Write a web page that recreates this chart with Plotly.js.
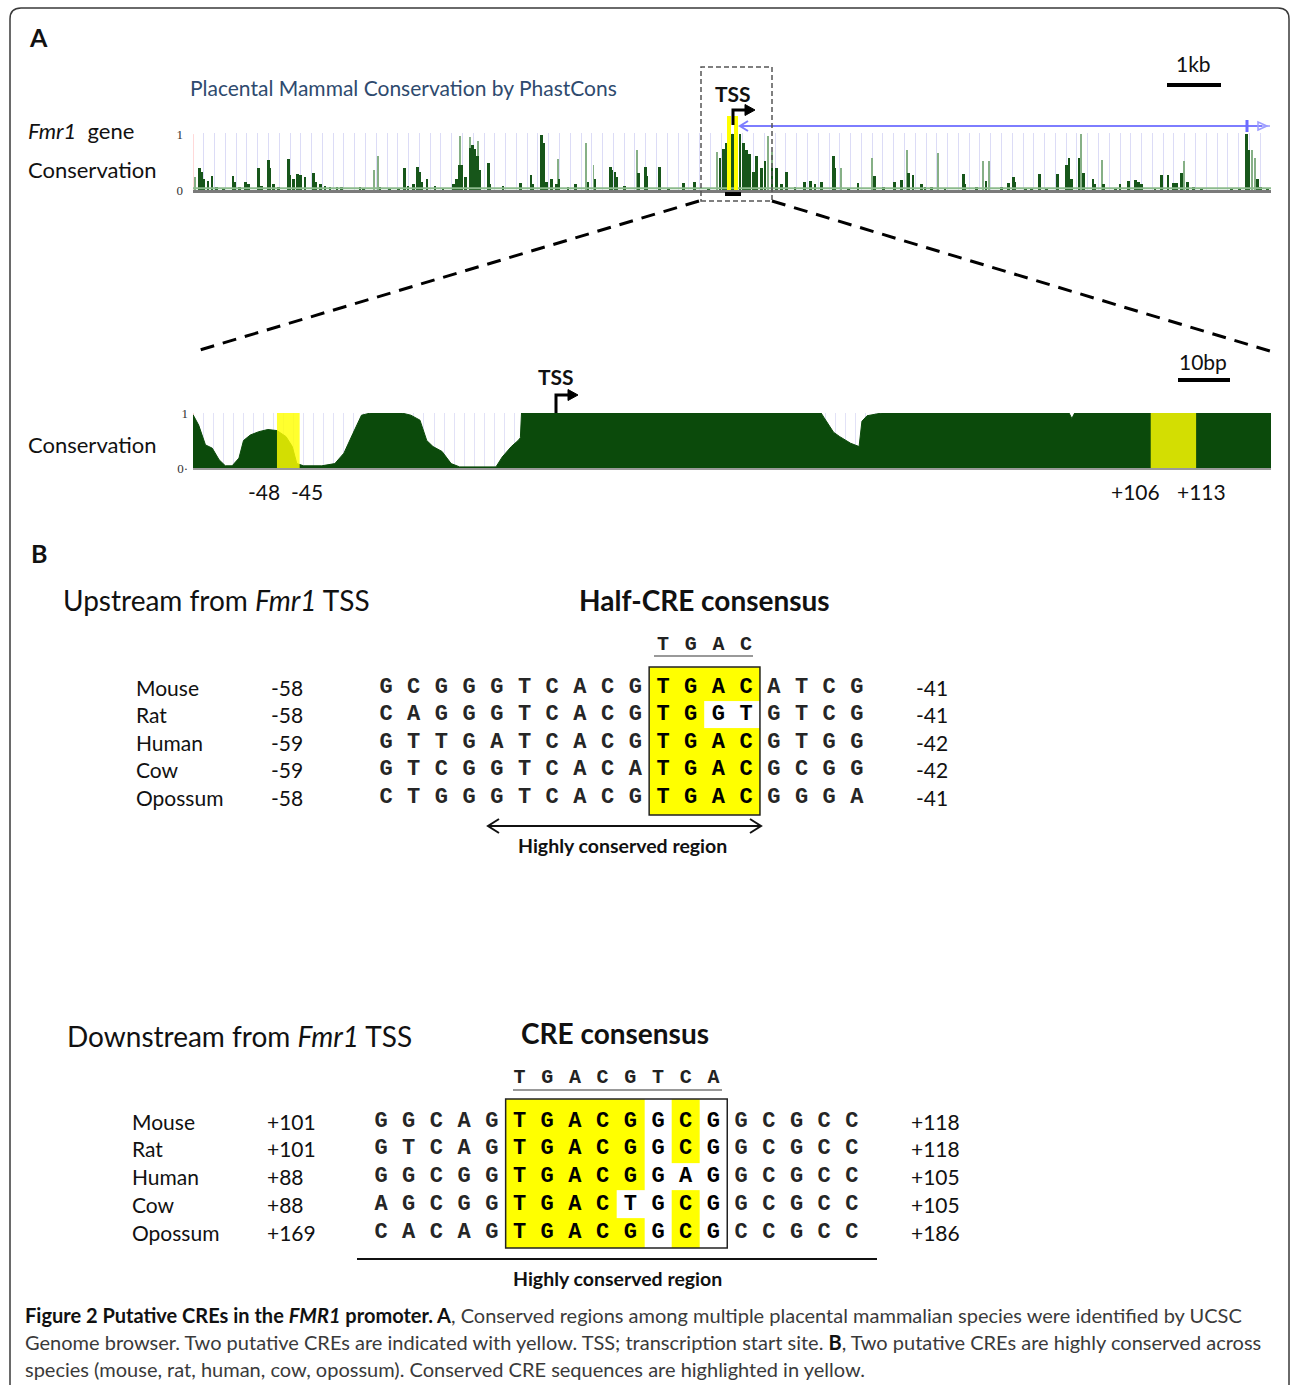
<!DOCTYPE html>
<html><head><meta charset="utf-8">
<script src="https://cdn.plot.ly/plotly-3.0.1.min.js"></script>
<style>body{margin:0;background:#fff}#chart{width:1290px;height:1385px}</style>
</head><body><div id="chart"></div>
<script>
// ---------------- DATA ----------------
// Panel A, upper track: PhastCons peaks across ~20 kb (position kb, score 0..1)
const darkPos = [0.12,0.16,0.20,0.28,0.35,0.44,0.56,0.74,0.78,0.86,0.98,1.03,1.21,1.27,1.40,1.43,1.49,1.58,1.77,1.80,1.86,1.94,1.99,2.08,2.23,2.28,2.36,2.45,2.54,2.67,2.76,3.10,3.16,3.47,3.65,3.81,3.93,3.99,4.09,4.16,4.20,4.24,4.34,4.49,4.64,4.83,4.89,4.95,4.99,5.06,5.14,5.19,5.23,5.28,5.32,5.48,5.51,5.75,6.07,6.27,6.31,6.47,6.50,6.56,6.65,6.75,
  6.79,6.96,7.09,7.33,7.46,7.74,7.77,7.83,7.86,8.01,8.26,8.39,8.42,8.65,8.82,9.10,9.31,9.56,9.78,9.84,9.90,10.01,10.15,10.21,10.27,10.33,10.40,10.46,10.55,10.61,10.74,10.83,10.92,11.01,11.17,11.35,11.45,11.54,11.66,11.88,11.91,12.16,12.34,12.64,12.81,13.02,13.15,13.27,13.36,13.52,
  13.58,13.70,13.95,14.29,14.32,14.54,14.71,15.00,15.13,15.22,15.25,15.44,15.56,15.70,15.84,16.04,16.21,16.25,16.30,16.44,16.52,16.70,16.73,16.89,17.11,17.20,17.35,17.48,17.54,17.60,17.85,17.97,18.09,18.19,18.25,18.34,18.45,18.56,18.71,19.27,19.42,19.55,19.58,19.75,19.81,19.93];
const darkVal = [0.40,0.32,0.19,0.16,0.25,0.05,0.03,0.25,0.15,0.05,0.14,0.10,0.40,0.08,0.53,0.39,0.10,0.06,0.55,0.26,0.20,0.29,0.27,0.23,0.30,0.15,0.10,0.07,0.05,0.06,0.05,0.06,0.04,0.05,0.04,0.04,0.39,0.08,0.10,0.42,0.32,0.15,0.19,0.07,0.03,0.10,0.20,0.45,0.45,0.23,0.75,0.80,0.74,0.60,0.35,0.48,0.10,0.08,0.13,0.27,0.10,0.98,0.84,0.15,0.19,0.10,
  0.20,0.05,0.10,0.15,0.20,0.42,0.35,0.32,0.23,0.08,0.30,0.42,0.25,0.42,0.04,0.12,0.15,0.04,0.58,0.74,0.84,1.00,1.00,0.84,0.71,0.65,0.32,0.61,0.39,0.52,0.40,0.39,0.10,0.32,0.05,0.15,0.16,0.10,0.15,0.61,0.40,0.04,0.13,0.25,0.06,0.14,0.18,0.30,0.26,0.10,
  0.05,0.05,0.03,0.29,0.10,0.05,0.16,0.05,0.12,0.23,0.15,0.04,0.04,0.29,0.04,0.29,0.45,0.58,0.20,0.58,0.30,0.19,0.10,0.10,0.04,0.10,0.16,0.18,0.15,0.10,0.04,0.26,0.26,0.13,0.12,0.30,0.15,0.05,0.04,0.03,0.04,1.00,0.71,0.20,0.05,0.03];
const lightPos = [0.04,3.36,3.43,4.95,5.14,5.28,6.77,7.29,7.43,8.23,9.72,10.67,10.74,12.02,12.59,13.24,13.83,14.66,14.77,16.47,16.86,18.39,19.64,19.70];
const lightVal = [0.23,0.35,0.61,0.97,0.94,0.87,0.55,0.85,0.45,0.71,0.68,0.97,0.68,0.39,0.58,0.72,0.66,0.52,0.52,1.00,0.53,0.52,0.71,0.58];

// Panel A, lower track: base-level conservation around the TSS (position bp, score)
const promPos = [-63.3,-62.3,-61.1,-59.9,-58.7,-57.6,-56.4,-55.2,-54.4,-53.2,-51.7,-50.1,-48.5,-46.9,-45.8,-45.0,-43.8,-40.6,-38.3,-36.7,-35.1,-33.6,-32.0,-26.5,-24.9,-23.3,-22.1,-21.0,-19.4,-17.8,-16.3,-9.9,-8.8,-7.2,-6.0,-5.6,-5.4,
  47.4,47.9,49.6,50.7,51.6,52.6,54.1,54.6,55.5,58.1,91.1,91.6,92.1,126.7];
const promVal = [0.97,0.78,0.42,0.36,0.15,0.04,0.04,0.18,0.50,0.60,0.66,0.70,0.68,0.57,0.39,0.08,0.04,0.04,0.08,0.27,0.63,0.96,1.00,1.00,0.96,0.87,0.50,0.39,0.30,0.08,0.02,0.02,0.20,0.39,0.50,0.55,1.00,
  1.00,0.92,0.65,0.57,0.51,0.45,0.39,0.85,0.95,1.00,1.00,0.90,1.00,1.00];
const creStart = [-48, 106];
const creEnd   = [-45, 113];
const creLabels = ["-48","-45","+106","+113"];

// Panel B alignments
const species = ["Mouse","Rat","Human","Cow","Opossum"];
const upSeqs  = ["GCGGGTCACGTGACATCG","CAGGGTCACGTGGTGTCG","GTTGATCACGTGACGTGG","GTCGGTCACATGACGCGG","CTGGGTCACGTGACGGGA"];
const upStart = ["-58","-58","-59","-59","-58"];
const upEnd   = ["-41","-41","-42","-42","-41"];
const upBoxCols = [10,11,12,13];
const upHighlight = [[1,1,1,1],[1,1,0,0],[1,1,1,1],[1,1,1,1],[1,1,1,1]];
const upConsensus = "TGAC";

const dnSeqs  = ["GGCAGTGACGGCGGCGCC","GTCAGTGACGGCGGCGCC","GGCGGTGACGGAGGCGCC","AGCGGTGACTGCGGCGCC","CACAGTGACGGCGCCGCC"];
const dnStart = ["+101","+101","+88","+88","+169"];
const dnEnd   = ["+118","+118","+105","+105","+186"];
const dnBoxCols = [5,6,7,8,9,10,11,12];
const dnHighlight = [[1,1,1,1,1,0,1,0],[1,1,1,1,1,0,1,0],[1,1,1,1,1,0,0,0],[1,1,1,1,0,0,1,0],[1,1,1,1,1,0,1,0]];
const dnConsensus = "TGACGTCA";

// ---------------- LAYOUT HELPERS ----------------
const W=1290,H=1385;
const X=p=>p/W, Y=p=>1-p/H;
const SANS='Lato, "Open Sans", sans-serif';
const MONO='"Liberation Mono", "DejaVu Sans Mono", monospace';
const GREEN='#0b4a0b';

function seqTrace(seqs, boxCols, xa, ya){
  const xs=[],ys=[],ts=[],cs=[];
  seqs.forEach((s,r)=>{ for(let c=0;c<s.length;c++){ xs.push(c); ys.push(r); ts.push(s[c]); cs.push(boxCols.includes(c)?'#000':'#262626'); } });
  return {type:'scatter',mode:'text',x:xs,y:ys,text:ts,xaxis:xa,yaxis:ya,cliponaxis:false,hoverinfo:'skip',
    textfont:{family:MONO,size:22,color:cs,weight:'bold'},showlegend:false};
}
function consTrace(cons, firstCol, rowY, xa, ya){
  const letters=cons.split('');
  return {type:'scatter',mode:'text',x:letters.map((_,i)=>firstCol+i),y:letters.map(()=>rowY),
    text:letters,xaxis:xa,yaxis:ya,cliponaxis:false,hoverinfo:'skip',
    textfont:{family:MONO,size:20,color:'#222',weight:'bold'},showlegend:false};
}

const traces = [
  {type:'bar',x:lightPos,y:lightVal,width:0.035,marker:{color:'#86b086',line:{width:0}},xaxis:'x',yaxis:'y',hoverinfo:'skip',showlegend:false},
  {type:'bar',x:darkPos,y:darkVal,width:0.05,marker:{color:'#17561a',line:{width:0}},xaxis:'x',yaxis:'y',hoverinfo:'skip',showlegend:false},
  {type:'scatter',mode:'lines',x:promPos,y:promVal,fill:'tozeroy',fillcolor:GREEN,line:{color:GREEN,width:1},xaxis:'x2',yaxis:'y2',hoverinfo:'skip',showlegend:false},
  {type:'heatmap',x:upBoxCols,y:[-0.727,0.5,1.5,2.5,3.5,4.655],z:upHighlight,zmin:0,zmax:1,colorscale:[[0,'#ffffff'],[1,'#ffff00']],showscale:false,xaxis:'x3',yaxis:'y3',hoverinfo:'skip'},
  {type:'heatmap',x:dnBoxCols,y:[-0.79,0.5,1.5,2.5,3.5,4.58],z:dnHighlight,zmin:0,zmax:1,colorscale:[[0,'#ffffff'],[1,'#ffff00']],showscale:false,xaxis:'x4',yaxis:'y4',hoverinfo:'skip'},
  seqTrace(upSeqs, upBoxCols, 'x3','y3'),
  seqTrace(dnSeqs, dnBoxCols, 'x4','y4'),
  consTrace(upConsensus, upBoxCols[0], -1.53, 'x3','y3'),
  consTrace(dnConsensus, dnBoxCols[0], -1.55, 'x4','y4')
];

// ---------------- SHAPES ----------------
const shapes = [];
const pl = (x0,y0,x1,y1,color,width,dash)=>shapes.push({type:'line',xref:'paper',yref:'paper',x0:X(x0),y0:Y(y0),x1:X(x1),y1:Y(y1),line:{color,width,dash:dash||'solid'},layer:'above'});
const pathP = (pts,close,color,width,fill)=>{ let d='M'+pts.map(p=>X(p[0])+','+Y(p[1])).join(' L')+(close?' Z':''); shapes.push({type:'path',xref:'paper',yref:'paper',path:d,line:{color,width},fillcolor:fill||'rgba(0,0,0,0)',layer:'above'}); };

// outer rounded frame
shapes.push({type:'path',xref:'paper',yref:'paper',layer:'above',line:{color:'#3a3a3a',width:1.5},
  path:`M${X(10)},${Y(1400)} L${X(10)},${Y(19)} Q${X(10)},${Y(8)} ${X(21)},${Y(8)} L${X(1278)},${Y(8)} Q${X(1289)},${Y(8)} ${X(1289)},${Y(19)} L${X(1289)},${Y(1400)}`});

// upper track decorations
shapes.push({type:'line',xref:'x',yref:'y',x0:0,x1:0,y0:0,y1:1,line:{color:'#ffb4b4',width:1},layer:'below'});
shapes.push({type:'line',xref:'x',yref:'y',x0:0,x1:20,y0:0.03,y1:0.03,line:{color:'#8dbb8d',width:2},layer:'above'});
shapes.push({type:'rect',xref:'paper',yref:'paper',x0:X(727),x1:X(731),y0:Y(190),y1:Y(116),fillcolor:'#ffff00',line:{width:0},layer:'above'});
shapes.push({type:'rect',xref:'paper',yref:'paper',x0:X(734),x1:X(738),y0:Y(190),y1:Y(116),fillcolor:'#ffff00',line:{width:0},layer:'above'});
pl(725,194,741,194,'#000',4);
// gene model (blue)
pl(741,126,1262,126,'#7d7dff',2);
pathP([[748,121],[740,126],[748,131]],false,'#7d7dff',2);
pl(1247,120,1247,132,'#6b6bff',3);
pathP([[1258,122],[1267,126],[1258,130]],true,'#9d9dff',1.5);
pl(1262,126,1270,126,'#9d9dff',1.5);
// TSS arrow (upper)
pathP([[733,125],[733,110],[746,110]],false,'#000',3);
pathP([[745,104.5],[755,110],[745,115.5]],true,'#000',1,'#000');
// dashed zoom box and projection
shapes.push({type:'rect',xref:'paper',yref:'paper',x0:X(701),x1:X(772),y0:Y(201),y1:Y(67),line:{color:'#555',width:1.5,dash:'5px,3px'},layer:'above'});
pl(699,201,193,352,'#000',3,'14px,9px');
pl(772,201,1273,352,'#000',3,'14px,9px');
// scale bars
pl(1167,85,1221,85,'#000',4);
pl(1178,380,1230,380,'#000',4);
// lower track decorations
shapes.push({type:'line',xref:'x2',yref:'y2',x0:-63.3,x1:-63.3,y0:0,y1:1,line:{color:'#ffb4b4',width:1},layer:'below'});
creStart.forEach((s,i)=>shapes.push({type:'rect',xref:'x2',yref:'y2',x0:s-0.5,x1:creEnd[i]+0.5,y0:0,y1:1,fillcolor:'rgba(255,255,0,0.82)',line:{width:0},layer:'above'}));
pathP([[556,413],[556,395],[569,395]],false,'#000',3);
pathP([[568,389.5],[578,395],[568,400.5]],true,'#000',1,'#000');

// Panel B boxes & lines
shapes.push({type:'rect',xref:'x3',yref:'y3',x0:9.5,x1:13.5,y0:-0.727,y1:4.655,line:{color:'#222',width:1.5},layer:'above'});
shapes.push({type:'rect',xref:'x4',yref:'y4',x0:4.5,x1:12.5,y0:-0.79,y1:4.58,line:{color:'#222',width:1.5},layer:'above'});
pl(654,656,753,656,'#777',1.5);
pl(513,1090,722,1090,'#777',1.5);
// double arrow
pl(489,826,760,826,'#111',2);
pathP([[499,819],[488,826],[499,833]],false,'#111',2);
pathP([[750,819],[761,826],[750,833]],false,'#111',2);
pl(357,1259,877,1259,'#111',2);

// ---------------- ANNOTATIONS ----------------
const ann = [];
const txt = (t,x,y,size,opts)=>ann.push(Object.assign({text:t,x:X(x),y:Y(y),xref:'paper',yref:'paper',showarrow:false,xanchor:'left',yanchor:'middle',font:{family:SANS,size:size,color:'#111'}},opts||{}));

txt('<b>A</b>',27,37,25);
txt('<b>B</b>',29,553,25);
txt('Placental Mammal Conservation by PhastCons',188,87,21,{font:{family:SANS,size:21,color:'#2e4a6e'}});
txt('<i>Fmr1</i>  gene',26,130,22);
txt('Conservation',26,170,22);
txt('Conservation',26,444,22);
txt('<b>TSS</b>',733,94,21,{xanchor:'center'});
txt('<b>TSS</b>',556,376,21,{xanchor:'center'});
txt('1kb',1193,64,21,{xanchor:'center'});
txt('10bp',1203,362,21,{xanchor:'center'});
const creLabelX=[264,307,1135,1201];
creLabels.forEach((l,i)=>txt(l,creLabelX[i],492,21,{xanchor:'center'}));

txt('Upstream from <i>Fmr1</i> TSS',61,600,28);
txt('<b>Half-CRE consensus</b>',704,600,28,{xanchor:'center'});
txt('<b>Highly conserved region</b>',622,845,19.5,{xanchor:'center'});
txt('Downstream from <i>Fmr1</i> TSS',65,1036,28);
txt('<b>CRE consensus</b>',615,1033,28,{xanchor:'center'});
txt('<b>Highly conserved region</b>',617,1278,19.5,{xanchor:'center'});

const lf={family:SANS,size:21,color:'#111'};
species.forEach((s,r)=>{
  ann.push({text:s,x:X(134),y:r,xref:'paper',yref:'y3',showarrow:false,xanchor:'left',font:lf});
  ann.push({text:upStart[r],x:X(269),y:r,xref:'paper',yref:'y3',showarrow:false,xanchor:'left',font:lf});
  ann.push({text:upEnd[r],x:X(914),y:r,xref:'paper',yref:'y3',showarrow:false,xanchor:'left',font:lf});
  ann.push({text:s,x:X(130),y:r,xref:'paper',yref:'y4',showarrow:false,xanchor:'left',font:lf});
  ann.push({text:dnStart[r],x:X(265),y:r,xref:'paper',yref:'y4',showarrow:false,xanchor:'left',font:lf});
  ann.push({text:dnEnd[r],x:X(909),y:r,xref:'paper',yref:'y4',showarrow:false,xanchor:'left',font:lf});
});

const capFont={family:SANS,size:20,color:'#3a3a3a'};
txt('<b style="color:#111">Figure 2 Putative CREs in the <i>FMR1</i> promoter. A</b>, Conserved regions among multiple placental mammalian species were identified by UCSC',23,1315,20,{font:capFont});
txt('Genome browser. Two putative CREs are indicated with yellow. TSS; transcription start site. <b style="color:#111">B</b>, Two putative CREs are highly conserved across',23,1342,20,{font:capFont});
txt('species (mouse, rat, human, cow, opossum). Conserved CRE sequences are highlighted in yellow.',23,1369,20,{font:capFont});

// ---------------- AXES ----------------
const hiddenAx = {visible:false,fixedrange:true};
const layout = {
  width:W,height:H,margin:{l:0,r:0,t:0,b:0},paper_bgcolor:'#fff',plot_bgcolor:'rgba(0,0,0,0)',
  barmode:'overlay',showlegend:false,bargap:0,
  xaxis:{domain:[X(193),X(1271)],range:[0,20],anchor:'y',showgrid:true,tick0:0,dtick:0.2,gridcolor:'#dcdcf6',gridwidth:1,
    showticklabels:false,ticks:'',zeroline:false,showline:true,linecolor:'#7a7a7a',linewidth:3,fixedrange:true},
  yaxis:{domain:[Y(190),Y(133)],range:[0,1.02],anchor:'x',tickvals:[0,1],ticktext:['0','1'],ticks:'',ticklabelstandoff:9,
    tickfont:{family:'"Liberation Serif", serif',size:13,color:'#333'},showgrid:false,zeroline:false,showline:false,fixedrange:true},
  xaxis2:{domain:[X(193),X(1271)],range:[-63.3,126.7],anchor:'y2',showgrid:true,tick0:-63.3,dtick:1.77,gridcolor:'#e2e2f7',gridwidth:1,
    showticklabels:false,ticks:'',zeroline:false,showline:true,linecolor:'#9a9a9a',linewidth:2,fixedrange:true},
  yaxis2:{domain:[Y(468),Y(413)],range:[0,1],anchor:'x2',tickvals:[0,1],ticktext:['0·','1'],ticks:'',ticklabelstandoff:4,
    tickfont:{family:'"Liberation Serif", serif',size:13,color:'#333'},showgrid:false,zeroline:false,showline:false,fixedrange:true},
  xaxis3:Object.assign({domain:[X(372.15),X(870.75)],range:[-0.5,17.5],anchor:'y3'},hiddenAx),
  yaxis3:Object.assign({domain:[Y(824.5),Y(632)],range:[5,-2],anchor:'x3'},hiddenAx),
  xaxis4:Object.assign({domain:[X(367.15),X(865.75)],range:[-0.5,17.5],anchor:'y4'},hiddenAx),
  yaxis4:Object.assign({domain:[Y(1259.75),Y(1065.5)],range:[5,-2],anchor:'x4'},hiddenAx),
  shapes:shapes,annotations:ann
};
Plotly.newPlot('chart',traces,layout,{displayModeBar:false,staticPlot:true});
</script></body></html>
